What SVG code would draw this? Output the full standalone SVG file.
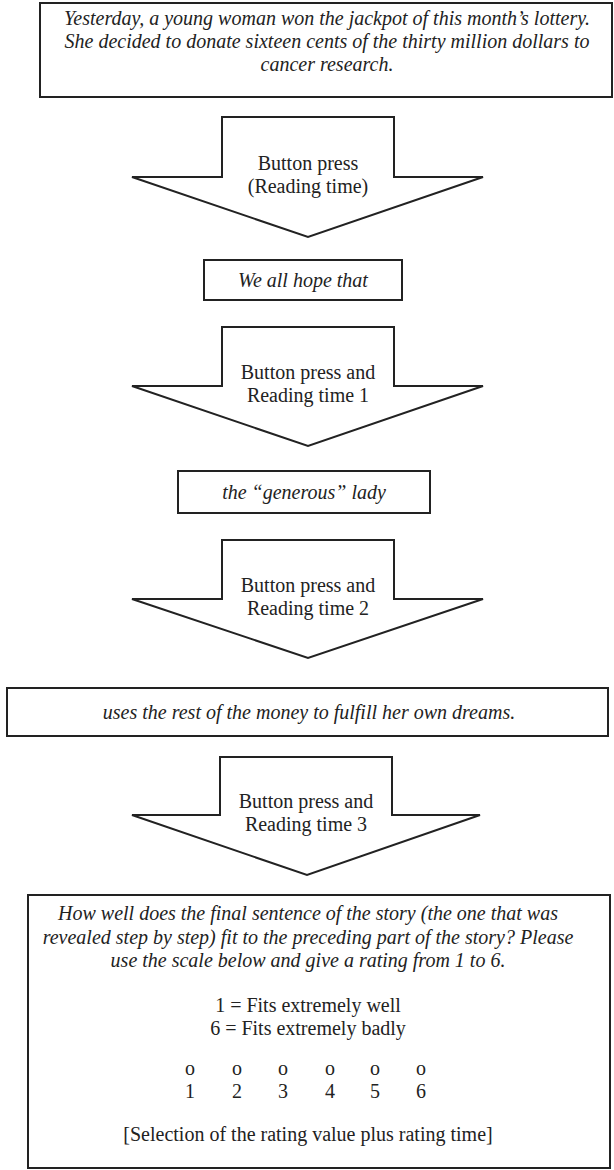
<svg xmlns="http://www.w3.org/2000/svg" width="614" height="1170" viewBox="0 0 614 1170">
<style>
.box{fill:#fff;stroke:#222;stroke-width:2}
.arr{fill:#fff;stroke:#222;stroke-width:2;stroke-linejoin:miter}
text{font-family:"Liberation Serif","Times New Roman",serif;font-size:20px;fill:#222;text-anchor:middle}
.it{font-style:italic}
</style>
<rect width="614" height="1170" fill="#fff"/>
<g id="story">
<rect class="box" x="40" y="3" width="572" height="94"/>
<text class="it" x="327" y="25">Yesterday, a young woman won the jackpot of this month’s lottery.</text>
<text class="it" x="327" y="48">She decided to donate sixteen cents of the thirty million dollars to</text>
<text class="it" x="327" y="71">cancer research.</text>
</g>
<g id="connectors">
<g id="arrow1">
<polygon class="arr" points="222,117 394,117 394,177 483,177 308,237 132,177 222,177"/>
<text x="308" y="170">Button press</text>
<text x="308" y="193">(Reading time)</text>
</g>
<g id="arrow2">
<polygon class="arr" points="222,327 394,327 394,386 483,386 308,446 132,386 222,386"/>
<text x="308" y="379">Button press and</text>
<text x="308" y="402">Reading time 1</text>
</g>
<g id="arrow3">
<polygon class="arr" points="222,540 394,540 394,599 483,599 308,658 132,599 222,599"/>
<text x="308" y="592">Button press and</text>
<text x="308" y="615">Reading time 2</text>
</g>
<g id="arrow4">
<polygon class="arr" points="220,757 392,757 392,815 480,815 307,875 132,815 220,815"/>
<text x="306" y="808">Button press and</text>
<text x="306" y="831">Reading time 3</text>
</g>
</g>
<g id="seg1">
<rect class="box" x="204" y="260" width="198" height="40"/>
<text class="it" x="303" y="287">We all hope that</text>
</g>
<g id="seg2">
<rect class="box" x="178" y="471" width="252" height="42"/>
<text class="it" x="304" y="499">the “generous” lady</text>
</g>
<g id="seg3">
<rect class="box" x="7" y="688" width="601" height="48"/>
<text class="it" x="309" y="719">uses the rest of the money to fulfill her own dreams.</text>
</g>
<g id="rating">
<rect class="box" x="28" y="895" width="582" height="273"/>
<text class="it" x="308" y="920">How well does the final sentence of the story (the one that was</text>
<text class="it" x="308" y="944">revealed step by step) fit to the preceding part of the story? Please</text>
<text class="it" x="308" y="967">use the scale below and give a rating from 1 to 6.</text>
<text x="308" y="1012">1 = Fits extremely well</text>
<text x="308" y="1035">6 = Fits extremely badly</text>
<text x="190" y="1075">o</text><text x="237" y="1075">o</text><text x="283" y="1075">o</text><text x="330" y="1075">o</text><text x="375" y="1075">o</text><text x="421" y="1075">o</text>
<text x="190" y="1098">1</text><text x="237" y="1098">2</text><text x="283" y="1098">3</text><text x="330" y="1098">4</text><text x="375" y="1098">5</text><text x="421" y="1098">6</text>
<text x="308" y="1141">[Selection of the rating value plus rating time]</text>
</g>
</svg>
